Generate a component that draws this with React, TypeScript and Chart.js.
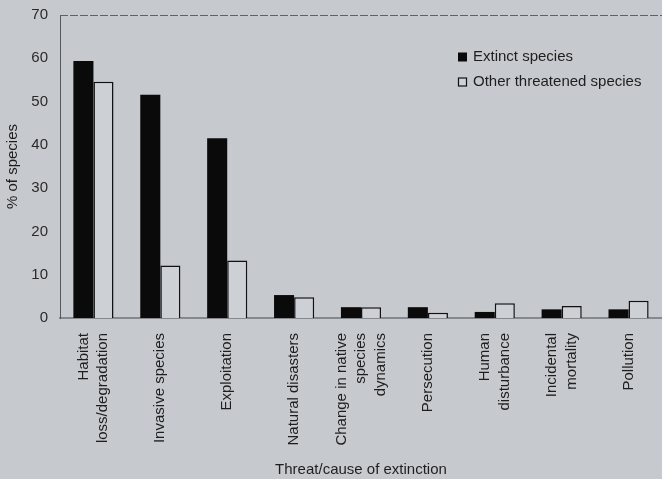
import React, { useEffect, useRef } from "react";
import { Chart, registerables } from "chart.js";

Chart.register(...registerables);

const categories: string[][] = [
  ["Habitat", "loss/degradation"],
  ["Invasive species"],
  ["Exploitation"],
  ["Natural disasters"],
  ["Change in native", "species", "dynamics"],
  ["Persecution"],
  ["Human", "disturbance"],
  ["Incidental", "mortality"],
  ["Pollution"],
];
const extinctSpecies = [59.4, 51.6, 41.5, 5.3, 2.5, 2.5, 1.4, 2.0, 2.0];
const otherThreatened = [54.6, 12.1, 13.3, 4.8, 2.5, 1.2, 3.4, 2.8, 4.0];
const yTicks = [0, 10, 20, 30, 40, 50, 60, 70];
const seriesNames = ["Extinct species", "Other threatened species"];

const BG = "#c6cace";
const FONT = '"Liberation Sans", Arial, sans-serif';
const FS = 15;

export default function App() {
  const ref = useRef<HTMLCanvasElement | null>(null);

  useEffect(() => {
    if (!ref.current) return;

    const frame = {
      id: "frame",
      afterDraw(chart: any) {
        const { ctx, chartArea } = chart;
        ctx.save();
        ctx.strokeStyle = "#5e6166";
        ctx.lineWidth = 1;
        ctx.setLineDash([8, 2]);
        ctx.beginPath();
        ctx.moveTo(chartArea.left, chartArea.top + 0.5);
        ctx.lineTo(chartArea.right, chartArea.top + 0.5);
        ctx.stroke();
        ctx.restore();
      },
    };

    const xLabels = {
      id: "xLabels",
      afterDraw(chart: any) {
        const { ctx } = chart;
        const xs = chart.scales.x;
        ctx.save();
        ctx.font = `${FS}px ${FONT}`;
        ctx.fillStyle = "#1e1e1e";
        ctx.textAlign = "right";
        ctx.textBaseline = "middle";
        const lh = 19.5;
        categories.forEach((lines, i) => {
          const x0 = xs.getPixelForValue(i);
          const n = lines.length;
          lines.forEach((line, j) => {
            const cx = x0 + (j - (n - 1) / 2) * lh;
            ctx.save();
            ctx.translate(cx, xs.top + 15);
            ctx.rotate(-Math.PI / 2);
            ctx.fillText(line, 0, 0);
            ctx.restore();
          });
        });
        ctx.restore();
      },
    };

    const legend = {
      id: "customLegend",
      afterDraw(chart: any) {
        const { ctx, chartArea } = chart;
        const x = chartArea.right - 204;
        const ys = [chartArea.top + 42, chartArea.top + 67];
        ctx.save();
        ctx.font = `${FS}px ${FONT}`;
        ctx.textBaseline = "middle";
        ctx.textAlign = "left";
        seriesNames.forEach((name, i) => {
          const y = ys[i];
          if (i === 0) {
            ctx.fillStyle = "#0a0a0a";
            ctx.fillRect(x, y - 4.5, 9, 9);
          } else {
            ctx.fillStyle = "#d0d3d6";
            ctx.fillRect(x, y - 4.5, 9, 9);
            ctx.strokeStyle = "#111";
            ctx.lineWidth = 1.2;
            ctx.strokeRect(x + 0.5, y - 4, 8, 8);
          }
          ctx.fillStyle = "#1e1e1e";
          ctx.fillText(name, x + 15, y);
        });
        ctx.restore();
      },
    };

    const chart = new Chart(ref.current, {
      type: "bar",
      data: {
        labels: categories.map((c) => c.join(" ")),
        datasets: [
          {
            label: seriesNames[0],
            data: extinctSpecies,
            backgroundColor: "#0a0a0a",
            borderColor: "#0a0a0a",
            borderWidth: 0,
            categoryPercentage: 0.6,
            barPercentage: 1.0,
          },
          {
            label: seriesNames[1],
            data: otherThreatened,
            backgroundColor: "#cdd0d4",
            borderColor: "#111",
            borderWidth: 1.5,
            categoryPercentage: 0.6,
            barPercentage: 1.0,
          },
        ],
      },
      options: {
        animation: false,
        responsive: true,
        maintainAspectRatio: false,
        layout: { padding: { top: 0, right: 0, left: 0, bottom: 0 } },
        plugins: {
          legend: { display: false },
          tooltip: { enabled: false },
        },
        scales: {
          x: {
            grid: { display: false },
            border: { display: true, color: "#85888c", width: 2 },
            ticks: { display: false },
            title: {
              display: true,
              text: "Threat/cause of extinction",
              color: "#1e1e1e",
              font: { family: FONT, size: FS },
              padding: { top: 0, bottom: 0 },
            },
            afterFit(scale: any) {
              scale.height = 161;
            },
          },
          y: {
            min: 0,
            max: 70,
            afterBuildTicks(scale: any) {
              scale.ticks = yTicks.map((v) => ({ value: v }));
            },
            grid: { display: false, drawTicks: false },
            border: { display: true, color: "#55585c", width: 1, dash: [3, 2] },
            ticks: {
              padding: 12,
              color: "#2a2a2a",
              font: { family: FONT, size: FS },
            },
            title: {
              display: true,
              text: "% of species",
              color: "#1e1e1e",
              font: { family: FONT, size: FS },
              padding: { top: 4, bottom: 0 },
            },
            afterFit(scale: any) {
              scale.width = 60;
              scale.paddingTop = 15;
              scale.paddingBottom = 0;
            },
          },
        },
      },
      plugins: [frame, xLabels, legend],
    });

    return () => chart.destroy();
  }, []);

  return (
    <div
      style={{
        position: "absolute",
        top: 0,
        left: 0,
        width: 662,
        height: 479,
        background: BG,
      }}
    >
      <canvas ref={ref} />
    </div>
  );
}
